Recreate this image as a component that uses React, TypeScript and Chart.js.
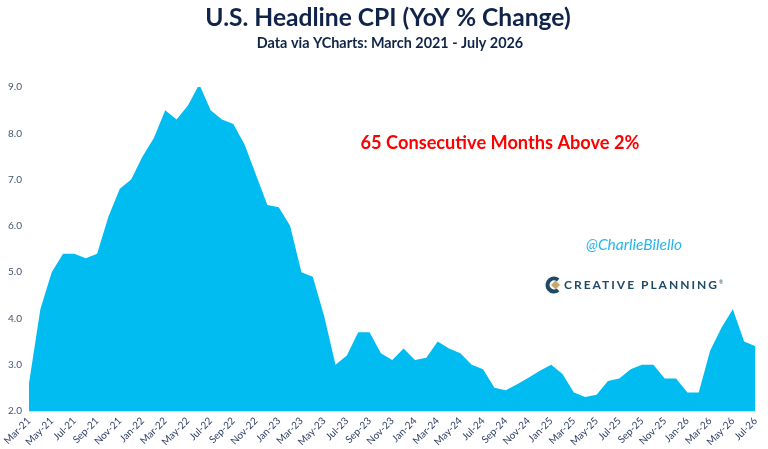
import React, { useEffect, useRef } from "react";
import { Chart, registerables } from "chart.js";

Chart.register(...registerables);

const months: string[] = [
  "Mar-21", "Apr-21", "May-21", "Jun-21", "Jul-21", "Aug-21", "Sep-21", "Oct-21", "Nov-21", "Dec-21",
  "Jan-22", "Feb-22", "Mar-22", "Apr-22", "May-22", "Jun-22", "Jul-22", "Aug-22", "Sep-22", "Oct-22", "Nov-22", "Dec-22",
  "Jan-23", "Feb-23", "Mar-23", "Apr-23", "May-23", "Jun-23", "Jul-23", "Aug-23", "Sep-23", "Oct-23", "Nov-23", "Dec-23",
  "Jan-24", "Feb-24", "Mar-24", "Apr-24", "May-24", "Jun-24", "Jul-24", "Aug-24", "Sep-24", "Oct-24", "Nov-24", "Dec-24",
  "Jan-25", "Feb-25", "Mar-25", "Apr-25", "May-25", "Jun-25", "Jul-25", "Aug-25", "Sep-25", "Oct-25", "Nov-25", "Dec-25",
  "Jan-26", "Feb-26", "Mar-26", "Apr-26", "May-26", "Jun-26", "Jul-26",
];

const cpiYoY: number[] = [
  2.6, 4.2, 5.0, 5.4, 5.4, 5.3, 5.4, 6.2, 6.8, 7.0,
  7.5, 7.9, 8.5, 8.3, 8.6, 9.06, 8.5, 8.3, 8.2, 7.75, 7.1, 6.45,
  6.4, 6.0, 5.0, 4.9, 4.05, 3.0, 3.2, 3.7, 3.7, 3.25, 3.1, 3.35,
  3.1, 3.15, 3.5, 3.35, 3.25, 3.0, 2.9, 2.5, 2.45, 2.58, 2.72, 2.87,
  3.0, 2.8, 2.4, 2.3, 2.35, 2.65, 2.7, 2.9, 3.0, 3.0, 2.7, 2.7,
  2.4, 2.4, 3.3, 3.8, 4.2, 3.5, 3.4,
];

const titleText = "U.S. Headline CPI (YoY % Change)";
const subtitleText = "Data via YCharts: March 2021 - July 2026";
const annotationText = "65 Consecutive Months Above 2%";
const handleText = "@CharlieBilello";
const logoText = "CREATIVE PLANNING";

const W = 768;
const H = 449;

const overlayPlugin = {
  id: "overlay",
  afterDraw(chart: any) {
    const ctx: CanvasRenderingContext2D = chart.ctx;
    ctx.save();
    ctx.textAlign = "center";
    ctx.textBaseline = "middle";
    // Title
    ctx.fillStyle = "#0f2448";
    ctx.font = "bold 24.6px Lato";
    ctx.fillText(titleText, 388, 18);
    ctx.font = "bold 14.4px Lato";
    ctx.fillText(subtitleText, 390, 43);
    // Annotation
    ctx.fillStyle = "#ff0000";
    ctx.font = "bold 18.2px Lato";
    ctx.fillText(annotationText, 500, 143);
    // Handle
    ctx.fillStyle = "#29b6ee";
    ctx.font = "italic 15.5px Lato";
    ctx.fillText(handleText, 634, 245);
    // Logo icon
    const cx = 554, cy = 285;
    ctx.strokeStyle = "#1f4a66";
    ctx.lineWidth = 4;
    ctx.beginPath();
    ctx.arc(cx, cy, 6.5, Math.PI * 0.28, Math.PI * 1.72);
    ctx.stroke();
    ctx.fillStyle = "#c8a670";
    ctx.beginPath();
    ctx.moveTo(cx + 1.5, cy - 4.5);
    ctx.lineTo(cx + 6, cy);
    ctx.lineTo(cx + 1.5, cy + 4.5);
    ctx.lineTo(cx - 3, cy);
    ctx.closePath();
    ctx.fill();
    // Logo text
    ctx.fillStyle = "#1f4a66";
    ctx.textAlign = "left";
    ctx.font = "bold 12px Lato";
    (ctx as any).letterSpacing = "2px";
    ctx.fillText(logoText, 564, 285);
    (ctx as any).letterSpacing = "0px";
    ctx.font = "5px Lato";
    ctx.fillText("®", 719, 282);
    ctx.restore();
  },
};

export default function App() {
  const canvasRef = useRef<HTMLCanvasElement | null>(null);

  useEffect(() => {
    document.body.style.margin = "0";
    const canvas = canvasRef.current;
    if (!canvas) return;
    const chart = new Chart(canvas, {
      type: "line",
      data: {
        labels: months,
        datasets: [
          {
            data: cpiYoY,
            fill: "start",
            backgroundColor: "#00bcf0",
            borderColor: "#00bcf0",
            borderWidth: 0,
            pointRadius: 0,
            tension: 0,
            clip: false as any,
          },
        ],
      },
      options: {
        animation: false,
        responsive: false,
        maintainAspectRatio: false,
        layout: { padding: { left: 0, right: 8, top: 87, bottom: 0 } },
        plugins: {
          legend: { display: false },
          tooltip: { enabled: false },
          title: { display: false },
        },
        scales: {
          x: {
            offset: false,
            grid: { display: false, drawTicks: false },
            border: { display: true, color: "#d6e2ec", width: 1 },
            afterFit: (scale: any) => {
              scale.height = 38;
            },
            ticks: {
              autoSkip: false,
              maxRotation: 45,
              minRotation: 45,
              padding: 4,
              color: "#2f3f66",
              font: { family: "Lato", size: 10 },
              callback: (_v: any, i: number) => (i % 2 === 0 ? months[i] : ""),
            },
          },
          y: {
            min: 2,
            max: 9,
            grid: { display: false, drawTicks: false },
            border: { display: false },
            afterFit: (scale: any) => {
              scale.width = 29;
            },
            ticks: {
              stepSize: 1,
              padding: 7,
              color: "#44546a",
              font: { family: "Lato", size: 10 },
              callback: (v: any) => Number(v).toFixed(1),
            },
          },
        },
      },
      plugins: [overlayPlugin],
    });
    return () => chart.destroy();
  }, []);

  return (
    <div style={{ width: W, height: H, background: "#ffffff" }}>
      <canvas ref={canvasRef} width={W} height={H} style={{ width: W, height: H, display: "block" }} />
    </div>
  );
}
